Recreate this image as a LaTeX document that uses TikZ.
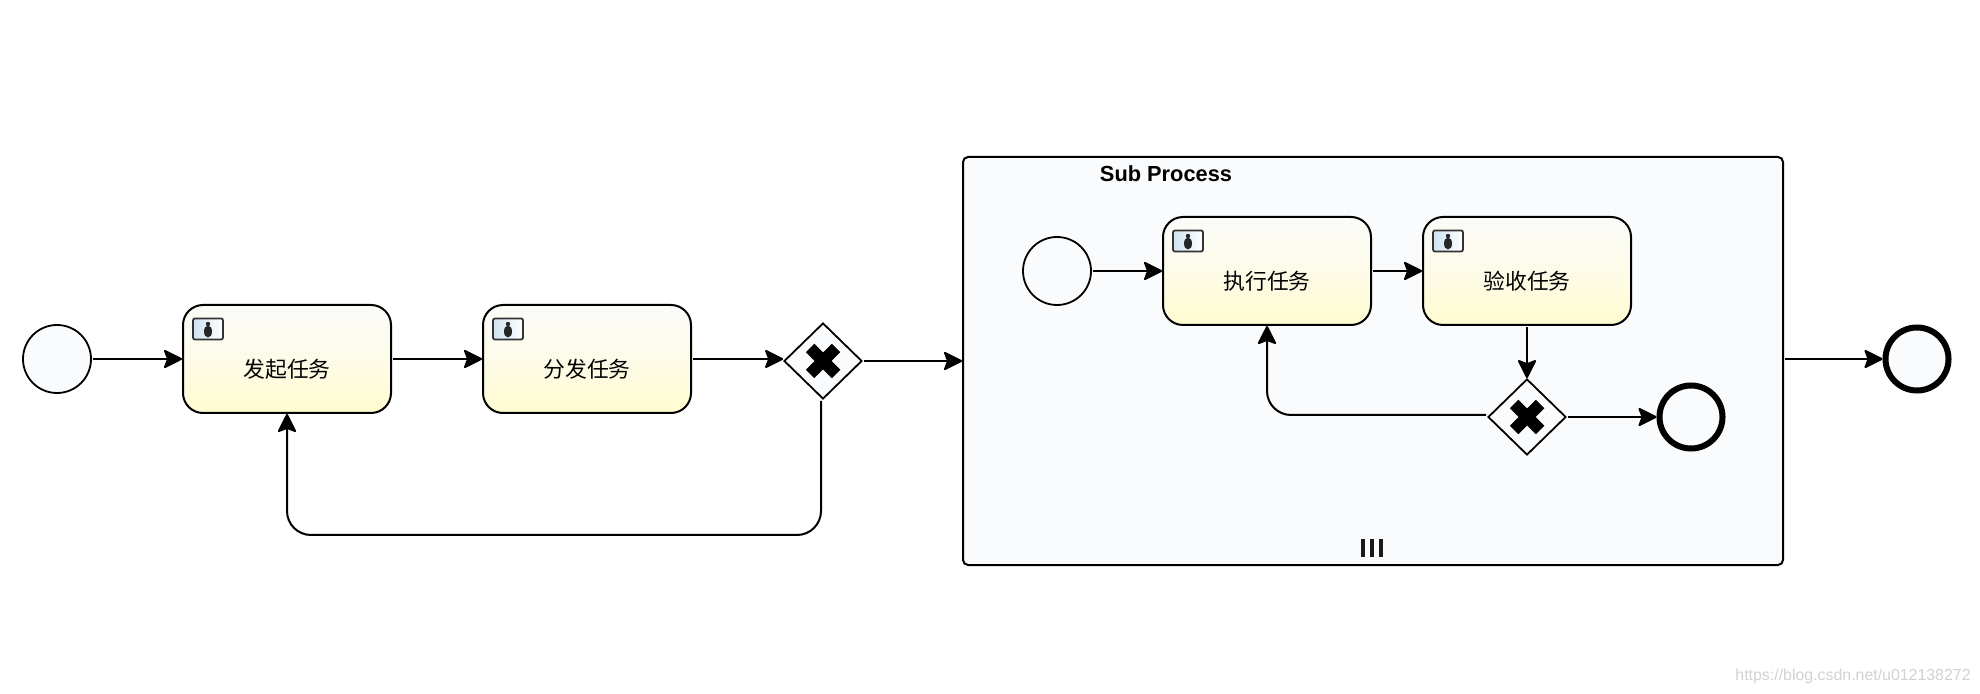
\documentclass[tikz,border=0pt]{standalone}
\usepackage{fontspec}
\setmainfont{Liberation Sans}
\newfontfamily\cjk{Noto Sans CJK SC}
\usetikzlibrary{arrows.meta,shapes.geometric,calc}
\definecolor{paleblue}{HTML}{FAFBFD}
\definecolor{tasktop}{HTML}{FBFBF9}
\definecolor{taskbot}{HTML}{FFFBD0}
\definecolor{iconblue}{HTML}{CFE3F2}
\tikzset{
  x=0.5pt,y=-0.5pt,
  flow/.style={line width=1pt,-{Stealth[length=10pt,width=10pt,inset=1.9pt,round]},shorten <=0.5pt},
  startevent/.style={circle,draw,line width=0.9pt,fill=paleblue,minimum size=34pt,inner sep=0pt},
  endevent/.style={circle,draw,line width=3pt,fill=paleblue,minimum size=31.5pt,inner sep=0pt},
  taskbox/.style={draw,line width=1pt,rounded corners=10pt,minimum width=104pt,minimum height=54pt,inner sep=0pt,
    top color=tasktop,bottom color=taskbot,middle color=tasktop!60!taskbot,font=\cjk\fontsize{10.9pt}{12pt}\selectfont,
    text depth=0pt},
  gateway/.style={diamond,draw,line width=0.9pt,fill=paleblue,minimum width=39pt,minimum height=38pt,inner sep=0pt},
  subprocess/.style={draw,line width=1pt,rounded corners=2.5pt,fill=paleblue,minimum width=410pt,minimum height=204pt,inner sep=0pt},
  xstroke/.style={line width=6pt,black},
  iconframe/.style={draw=black!80,line width=0.9pt,rounded corners=1pt,left color=iconblue,right color=white},
  pics/usermark/.style={code={
    \path[iconframe] (-15,-10.5) rectangle (15,10.5);
    \fill[black!85] (0,-5) circle (1.1pt);
    \fill[black!85] (0,2.5) ellipse (2pt and 3pt);
  }},
  pics/xmark/.style={code={
    \draw[xstroke] (-13,-13) -- (13,13);
    \draw[xstroke] (-13,13) -- (13,-13);
  }}
}
\begin{document}
\begin{tikzpicture}
\useasboundingbox (0,0) rectangle (1980,694);

% top level events, tasks and gateway
\node[startevent] (start) at (57,359) {};
\node[taskbox] (launch) at (287,359) {\raisebox{-9.5pt}{发起任务}};
\node[taskbox] (assign) at (587,359) {\raisebox{-9.5pt}{分发任务}};
\node[gateway] (choice) at (823,361) {};
\pic at (823,361) {xmark};
\node[endevent] (finish) at (1917,359) {};

% sub process and its content
\node[subprocess] (sub) at (1373,361) {};
\node[font=\bfseries\fontsize{10.9pt}{12pt}\selectfont,inner sep=0pt] (subtitle) at (1166,174) {Sub Process};
\node[startevent] (substart) at (1057,271) {};
\node[taskbox] (execute) at (1267,271) {\raisebox{-9.5pt}{执行任务}};
\node[taskbox] (verify) at (1527,271) {\raisebox{-9.5pt}{验收任务}};
\node[gateway] (subchoice) at (1527,417) {};
\pic at (1527,417) {xmark};
\node[endevent] (subfinish) at (1691,417) {};

% user task markers
\pic at (208,329) {usermark};
\pic at (508,329) {usermark};
\pic at (1188,241) {usermark};
\pic at (1448,241) {usermark};

% multi-instance marker
\foreach \bx in {1363,1372,1381}
  \fill[black!90] (\bx-1.8,539) rectangle (\bx+1.8,557);

% sequence flows
\draw[flow] (start) -- (launch);
\draw[flow] (launch) -- (assign);
\draw[flow] (assign.east) -- (assign.east -| choice.west);
\draw[flow] (choice.east) -- (choice.east -| sub.west);
\draw[flow] (sub.east |- finish.west) -- (finish.west);
\draw[flow,rounded corners=12pt] ([xshift=-1pt]choice.south) |- (launch.south |- 0,535) -- (launch.south);
\draw[flow] (substart) -- (execute);
\draw[flow] (execute) -- (verify);
\draw[flow] (verify.south) -- (subchoice.north);
\draw[flow,rounded corners=12pt] ([yshift=1pt]subchoice.west) -| (execute.south);
\draw[flow] (subchoice.east) -- (subfinish.west);

% source address in the corner
\node[text=black!18,font=\fontsize{7.95pt}{10pt}\selectfont,anchor=east,inner sep=0pt] (source) at (1971,676) {https://blog.csdn.net/u012138272};
\end{tikzpicture}
\end{document}
